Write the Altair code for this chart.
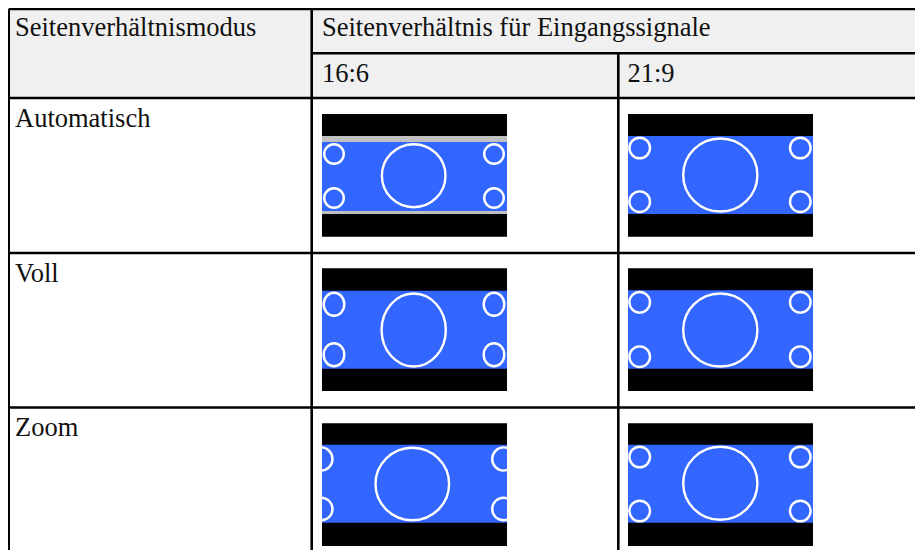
import altair as alt
import pandas as pd

# ---------------- text content ----------------
header_mode = "Seitenverhältnismodus"
header_signal = "Seitenverhältnis für Eingangssignale"
mode_labels = ["Automatisch", "Voll", "Zoom"]
signal_labels = ["16:6", "21:9"]

# ---------------- table layout (page pixels) ----------------
grid_col_x = [8.7, 311.7, 618.3]          # left border, column dividers
grid_row_y = [9.0, 53.3, 98.0, 253.0, 407.5]
page_right, page_bottom = 923, 558
view_right, view_bottom = 915, 550         # drawable page area (8px body margin)

text_col_x = [15, 322, 627.5]
header_base_y = [36, 82]
row_base_y = [127, 282, 436]

# picture boxes
pic_x0 = [322, 628]            # per signal column
pic_y0 = [114, 268.3, 423.3]   # per mode row
pic_w, pic_h = 185, 122.7

# bands inside each picture (relative to picture top)
band_mode = ["Automatisch", "Automatisch", "Automatisch", "Automatisch", "Voll", "Voll", "Zoom", "Zoom"]
band_signal = ["16:6", "16:6", "16:6", "21:9", "16:6", "21:9", "16:6", "21:9"]
band_top = [22, 28, 97, 22, 22.4, 22, 21.4, 21.4]
band_bot = [28, 97, 100, 100, 100.4, 100.4, 99.4, 99.4]
band_color = ["#c0c0c0", "#3366ff", "#c0c0c0", "#3366ff", "#3366ff", "#3366ff", "#3366ff", "#3366ff"]

# circles inside each picture (relative centre, outer radii)
circ_mode = (["Automatisch"] * 10) + (["Voll"] * 10) + (["Zoom"] * 10)
circ_signal = (["16:6"] * 5 + ["21:9"] * 5) * 3
circ_cx = [12, 172, 12, 172, 91.7,   11.7, 172.3, 11.7, 172.3, 92.3,
           12, 172, 12, 172, 91.7,   11.7, 172.3, 11.7, 172.3, 92.3,
           -0.8, 181.5, -0.8, 181.5, 90.3,   11.7, 172.3, 11.7, 172.3, 92.3]
circ_cy = [40, 40, 84, 84, 61.7,   34, 34, 87.7, 87.7, 61,
           36, 36, 86.4, 86.4, 61.7,   34, 34, 88.4, 88.4, 61.7,
           35.7, 35.7, 85.7, 85.7, 60.7,   33.7, 33.7, 87.7, 87.7, 60]
circ_rx = [11, 11, 11, 11, 33,   11.5, 11.5, 11.5, 11.5, 38.3,
           11.5, 11.5, 11.5, 11.5, 33.3,   11.5, 11.5, 11.5, 11.5, 38.3,
           12.5, 12.5, 12.5, 12.5, 38,   11.5, 11.5, 11.5, 11.5, 38.3]
circ_ry = [11, 11, 11, 11, 32.7,   11.5, 11.5, 11.5, 11.5, 37.7,
           12.7, 12.7, 12.7, 12.7, 37.7,   11.5, 11.5, 11.5, 11.5, 37.7,
           12.8, 12.8, 12.5, 12.5, 37.5,   11.5, 11.5, 11.5, 11.5, 37.7]

# ---------------- build tables ----------------
mi = {m: i for i, m in enumerate(mode_labels)}
si = {s: i for i, s in enumerate(signal_labels)}

pics = []
for m in mode_labels:
    for s in signal_labels:
        x0 = pic_x0[si[s]]
        y0 = pic_y0[mi[m]]
        pics.append(dict(x=x0, x2=x0 + pic_w, y=y0, y2=y0 + pic_h))
pics_df = pd.DataFrame(pics)

masks = []
for p in pics:
    masks.append(dict(x=p["x"] - 16, x2=p["x"], y=p["y"], y2=p["y2"]))
    masks.append(dict(x=p["x2"], x2=p["x2"] + 16, y=p["y"], y2=p["y2"]))
masks_df = pd.DataFrame(masks)

bands = []
for m, s, t, b, c in zip(band_mode, band_signal, band_top, band_bot, band_color):
    x0 = pic_x0[si[s]]
    y0 = pic_y0[mi[m]]
    bands.append(dict(x=x0, x2=x0 + pic_w, y=y0 + t, y2=y0 + b, color=c))
bands_df = pd.DataFrame(bands)

circs = []
for m, s, cx, cy, rx, ry in zip(circ_mode, circ_signal, circ_cx, circ_cy, circ_rx, circ_ry):
    rxc, ryc = rx - 1.2, ry - 1.2
    R = max(rxc, ryc)
    a, b = rxc / R, ryc / R
    path = f"M {-a:.4f} 0 A {a:.4f} {b:.4f} 0 1 0 {a:.4f} 0 A {a:.4f} {b:.4f} 0 1 0 {-a:.4f} 0 Z"
    circs.append(dict(x=pic_x0[si[s]] + cx, y=pic_y0[mi[m]] + cy,
                      shape=path, size=(2 * R) ** 2))
circs_df = pd.DataFrame(circs)

header_bg_df = pd.DataFrame([dict(x=grid_col_x[0], x2=page_right, y=grid_row_y[0], y2=grid_row_y[2])])

rules = []
# horizontal lines
rules.append(dict(x=grid_col_x[0], x2=page_right, y=grid_row_y[0], y2=grid_row_y[0]))
rules.append(dict(x=grid_col_x[1], x2=page_right, y=grid_row_y[1], y2=grid_row_y[1]))
for yy in grid_row_y[2:]:
    rules.append(dict(x=grid_col_x[0], x2=page_right, y=yy, y2=yy))
# vertical lines
rules.append(dict(x=grid_col_x[0], x2=grid_col_x[0], y=grid_row_y[0], y2=page_bottom))
rules.append(dict(x=grid_col_x[1], x2=grid_col_x[1], y=grid_row_y[0], y2=page_bottom))
rules.append(dict(x=grid_col_x[2], x2=grid_col_x[2], y=grid_row_y[1], y2=page_bottom))
rules_df = pd.DataFrame(rules)

texts = [
    dict(x=text_col_x[0], y=header_base_y[0], t=header_mode),
    dict(x=text_col_x[1], y=header_base_y[0], t=header_signal),
    dict(x=text_col_x[1], y=header_base_y[1], t=signal_labels[0]),
    dict(x=text_col_x[2], y=header_base_y[1], t=signal_labels[1]),
]
for m, yb in zip(mode_labels, row_base_y):
    texts.append(dict(x=text_col_x[0], y=yb, t=m))
texts_df = pd.DataFrame(texts)

# ---------------- scales (1 data unit = 1 page pixel) ----------------
xs = alt.Scale(domain=[8, view_right], nice=False, zero=False)
ys = alt.Scale(domain=[8, view_bottom], nice=False, zero=False, reverse=True)

def X(f="x"):
    return alt.X(f"{f}:Q", scale=xs, axis=None)

def Y(f="y"):
    return alt.Y(f"{f}:Q", scale=ys, axis=None)

header_bg = alt.Chart(header_bg_df).mark_rect(fill="#f0f0f0", clip=True).encode(
    x=X(), x2="x2:Q", y=Y(), y2="y2:Q")

pic_layer = alt.Chart(pics_df).mark_rect(fill="#000000", clip=True).encode(
    x=X(), x2="x2:Q", y=Y(), y2="y2:Q")

band_layer = alt.Chart(bands_df).mark_rect(clip=True).encode(
    x=X(), x2="x2:Q", y=Y(), y2="y2:Q",
    fill=alt.Fill("color:N", scale=None))

circ_layer = alt.Chart(circs_df).mark_point(
    filled=False, color="#ffffff", strokeWidth=2.4, opacity=1, clip=True
).encode(
    x=X(), y=Y(),
    shape=alt.Shape("shape:N", scale=None),
    size=alt.Size("size:Q", scale=None),
)

mask_layer = alt.Chart(masks_df).mark_rect(fill="#ffffff", clip=True).encode(
    x=X(), x2="x2:Q", y=Y(), y2="y2:Q")

rule_layer = alt.Chart(rules_df).mark_rule(color="#000000", strokeWidth=2.6, clip=True).encode(
    x=X(), x2="x2:Q", y=Y(), y2="y2:Q")

text_layer = alt.Chart(texts_df).mark_text(
    align="left", baseline="alphabetic", font="Liberation Serif",
    fontSize=26.5, color="#111111", clip=True
).encode(x=X(), y=Y(), text="t:N")

chart = alt.layer(
    header_bg, pic_layer, band_layer, circ_layer, mask_layer, rule_layer, text_layer
).properties(
    width=view_right - 8, height=view_bottom - 8, padding=0,
    autosize=alt.AutoSizeParams(type="none"),
).configure_view(stroke=None)

chart.save("out.html", embed_options={"renderer": "svg", "actions": False})
